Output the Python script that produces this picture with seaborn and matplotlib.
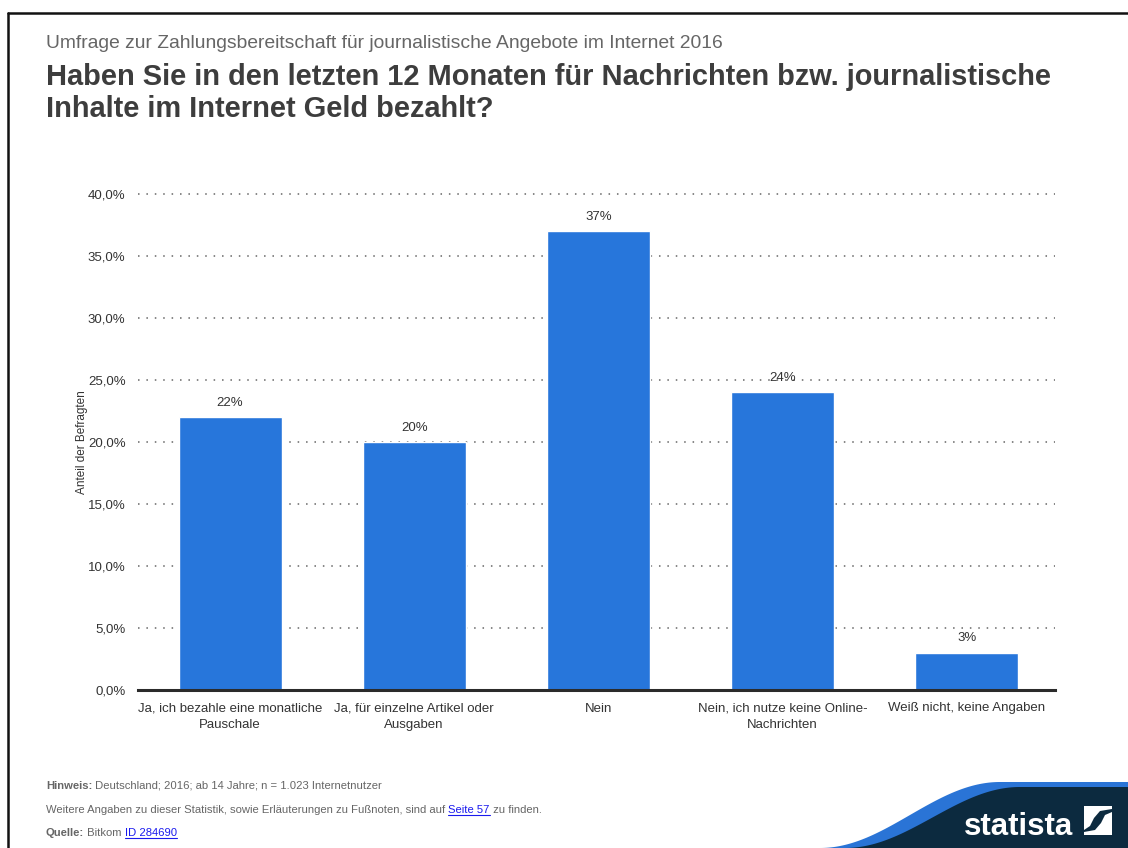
import numpy as np
import pandas as pd
import matplotlib
matplotlib.use("Agg")
import matplotlib.pyplot as plt
from matplotlib.patches import Polygon
from matplotlib.lines import Line2D
import seaborn as sns

# --- data ---------------------------------------------------------------
categories = [
    "Ja, ich bezahle eine monatliche\nPauschale",
    "Ja, für einzelne Artikel oder\nAusgaben",
    "Nein",
    "Nein, ich nutze keine Online-\nNachrichten",
    "Weiß nicht, keine Angaben",
]
shares = [22, 20, 37, 24, 3]
y_ticks = [0, 5, 10, 15, 20, 25, 30, 35, 40]

subtitle = "Umfrage zur Zahlungsbereitschaft für journalistische Angebote im Internet 2016"
title = ("Haben Sie in den letzten 12 Monaten für Nachrichten bzw. journalistische\n"
         "Inhalte im Internet Geld bezahlt?")
y_label = "Anteil der Befragten"

# --- style --------------------------------------------------------------
sns.set_theme(style="white")
plt.rcParams["font.family"] = ["Liberation Sans", "DejaVu Sans"]

W, H = 1128, 848
fig = plt.figure(figsize=(W / 100, H / 100), dpi=100)
fig.patch.set_facecolor("white")

BAR = "#2776db"
TXT = "#333333"


def fx(px):
    return px / W


def fy(py):
    return 1 - py / H


ax = fig.add_axes([fx(138), fy(690), fx(1055) - fx(138), fy(194) - fy(690)])
df = pd.DataFrame({"Kategorie": categories, "Anteil": shares})
sns.barplot(data=df, x="Kategorie", y="Anteil", color=BAR, saturation=1,
            width=0.56, ax=ax, zorder=3)

ax.set_ylim(0, 40)
ax.set_xlim(-0.5, 4.48)
ax.set_yticks(y_ticks)
ax.set_yticklabels([f"{t:.1f}".replace(".", ",") + "%" for t in y_ticks],
                   fontsize=9.5, color=TXT)
ax.tick_params(axis="y", length=0, pad=9)
ax.tick_params(axis="x", length=0, pad=9, labelsize=9.5, labelcolor=TXT)
ax.set_xlabel("")
ax.set_ylabel(y_label, fontsize=8.5, color=TXT, labelpad=0)
for lbl in ax.get_xticklabels():
    lbl.set_linespacing(1.45)

for t in y_ticks[1:]:
    ax.axhline(t, color="#666666", lw=1.1, ls=(0, (1, 4.5)), zorder=1, clip_on=False)

for s in ["top", "right", "left"]:
    ax.spines[s].set_visible(False)
ax.spines["bottom"].set_color("#2b2b2b")
ax.spines["bottom"].set_linewidth(2.2)
ax.spines["bottom"].set_zorder(4)

for c in ax.containers:
    ax.bar_label(c, labels=[f"{v:d}%" for v in shares], padding=6,
                 fontsize=9.5, color=TXT)

# --- headings -----------------------------------------------------------
fig.text(fx(46), fy(43), subtitle, fontsize=13.9, color="#666666", va="center")
fig.text(fx(46), fy(93), title, fontsize=20.9, fontweight="bold", color="#3d3d3d",
         va="center", linespacing=1.18)

# --- overlay for frame, footer and logo (pixel coordinates) --------------
ov = fig.add_axes([0, 0, 1, 1], zorder=5)
ov.set_xlim(0, W)
ov.set_ylim(H, 0)
ov.axis("off")
ov.patch.set_alpha(0)

ov.add_line(Line2D([8, W], [13, 13], color="#111111", lw=1.8))
ov.add_line(Line2D([8, 8], [13, H], color="#111111", lw=1.8))

# wave-shaped logo band
xs = np.linspace(820, W, 300)
blue_top = np.where(xs < 1000, 782 + 33 * (1 + np.cos(np.pi * (xs - 820) / 180)), 782)
ov.add_patch(Polygon(np.column_stack([np.r_[xs, W, 820], np.r_[blue_top, H, H]]),
                     closed=True, facecolor="#2a74d6", edgecolor="none"))
xn = np.linspace(845, W, 300)
navy_top = np.where(xn < 1020, 787 + 30.5 * (1 + np.cos(np.pi * (xn - 845) / 175)), 787)
ov.add_patch(Polygon(np.column_stack([np.r_[xn, W, 845], np.r_[navy_top, H, H]]),
                     closed=True, facecolor="#0c2a3f", edgecolor="none"))

ov.text(1018.5, 835, "statista", color="white", fontsize=22.5, fontweight="bold",
        ha="center", va="baseline")
# logo mark
ov.add_patch(Polygon([(1084, 806), (1112, 806), (1112, 809), (1100, 811), (1094, 818),
                      (1090, 826), (1084, 830)], closed=True,
                     facecolor="white", edgecolor="none"))
ov.add_patch(Polygon([(1112, 812), (1112, 835), (1084, 835), (1084, 832), (1095, 830),
                      (1101, 823), (1105, 815)], closed=True,
                     facecolor="white", edgecolor="none"))

# footer lines built from consecutive pieces
fig.canvas.draw()
renderer = fig.canvas.get_renderer()


def run(pieces, x, y):
    for text, weight, color, link in pieces:
        t = ov.text(x, y, text, fontsize=8.15, fontweight=weight, color=color,
                    va="baseline", ha="left")
        bb = t.get_window_extent(renderer)
        w = bb.width
        if link:
            ov.add_line(Line2D([x, x + w], [y + 2, y + 2], color=color, lw=0.8))
        x += w


GRAY = "#666666"
LINK = "#1a1aee"
run([("Hinweis:", "bold", GRAY, False),
     (" Deutschland; 2016; ab 14 Jahre; n = 1.023 Internetnutzer", "normal", GRAY, False)],
    46, 789)
run([("Weitere Angaben zu dieser Statistik, sowie Erläuterungen zu Fußnoten, sind auf ",
      "normal", GRAY, False),
     ("Seite 57", "normal", LINK, True),
     (" zu finden.", "normal", GRAY, False)],
    46, 813)
run([("Quelle:", "bold", GRAY, False),
     (" Bitkom ", "normal", GRAY, False),
     ("ID 284690", "normal", LINK, True)],
    46, 836)

fig.savefig("out.png", dpi=100, facecolor="white")
